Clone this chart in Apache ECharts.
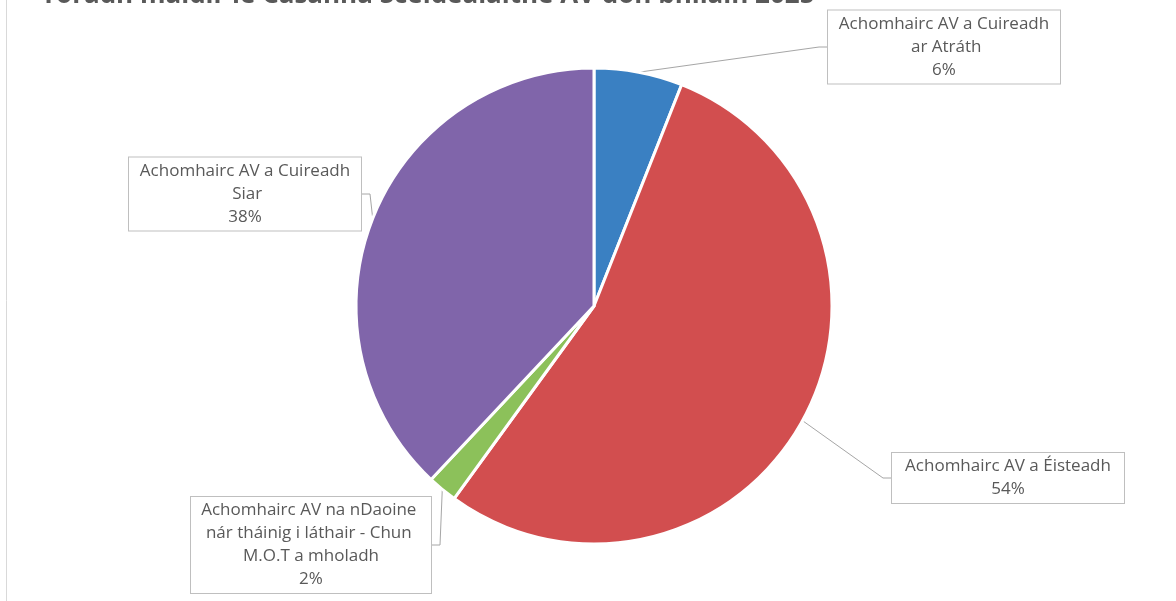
<!DOCTYPE html>
<html>
<head>
<meta charset="utf-8">
<script src="https://cdn.jsdelivr.net/npm/echarts@6/dist/echarts.min.js"></script>
<style>
  html, body { margin: 0; padding: 0; background: #fff; }
  #chart { width: 1176px; height: 601px; }
</style>
</head>
<body>
<div id="chart"></div>
<script>
// chart data
var titleText = "Toradh maidir le Casanna Sceidealaithe AV don bhliain 2025";
var categories = [
  "Achomhairc AV a Cuireadh ar Atráth",
  "Achomhairc AV a Éisteadh",
  "Achomhairc AV na nDaoine nár tháinig i láthair - Chun M.O.T a mholadh",
  "Achomhairc AV a Cuireadh Siar"
];
var values = [6, 54, 2, 38];
var colors = ["#3A80C2", "#D24E4F", "#8CC15A", "#8065AA"];

// callout box centre, text width and padding, by slice
var labelSpots = [[944, 47], [1008, 478], [311, 545], [245, 194]];
var labelWidths = [214, 214, 234, 214];
var labelPads = [9, 9, 3, 9];

var myChart = echarts.init(document.getElementById("chart"));

var pieData = categories.map(function (name, i) {
  return {
    name: name,
    value: values[i],
    itemStyle: { color: colors[i] },
    label: { width: labelWidths[i], padding: [2, labelPads[i], 2, labelPads[i]] }
  };
});

myChart.setOption({
  backgroundColor: "#fff",
  animation: false,
  title: {
    text: titleText,
    left: 36,
    top: -22,
    textStyle: {
      fontFamily: "Open Sans",
      fontSize: 26,
      fontWeight: "bold",
      color: "#595959"
    }
  },
  graphic: [{
    type: "rect",
    shape: { x: 6.5, y: -10, width: 1300, height: 700 },
    style: { fill: null, stroke: "#d9d9d9", lineWidth: 1 },
    silent: true
  }],
  series: [{
    type: "pie",
    center: [594, 306],
    radius: 238,
    startAngle: 90,
    clockwise: true,
    avoidLabelOverlap: false,
    itemStyle: { borderColor: "#fff", borderWidth: 3 },
    label: {
      show: true,
      formatter: function (p) {
        return p.name + "\n" + Math.round(p.percent) + "%";
      },
      fontFamily: "Open Sans",
      fontSize: 17,
      lineHeight: 23,
      color: "#595959",
      overflow: "break",
      align: "center",
      backgroundColor: "#fff",
      borderColor: "#bfbfbf",
      borderWidth: 1
    },
    labelLine: {
      show: true,
      length: 20,
      length2: 8,
      lineStyle: { color: "#a6a6a6", width: 1 }
    },
    labelLayout: function (params) {
      var spot = labelSpots[params.dataIndex];
      return {
        x: spot[0],
        y: spot[1],
        align: "center",
        verticalAlign: "middle"
      };
    },
    data: pieData
  }]
});
</script>
</body>
</html>
